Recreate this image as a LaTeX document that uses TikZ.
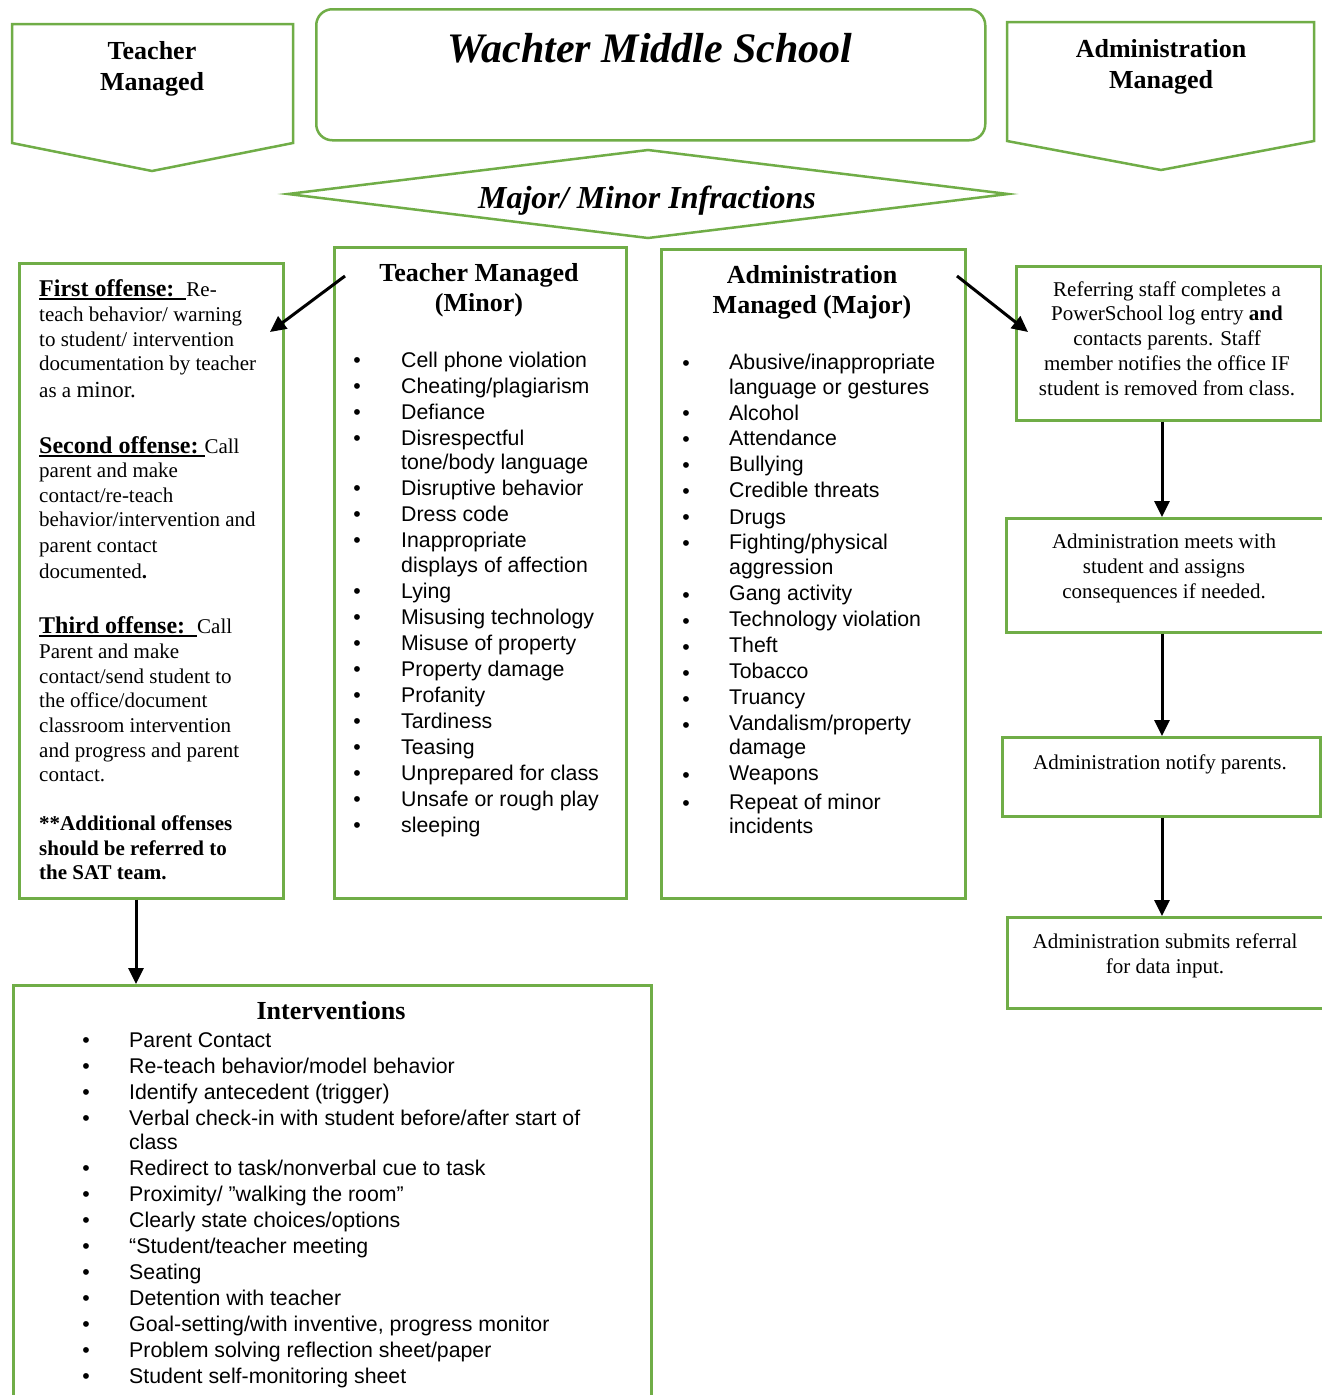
\documentclass[tikz,border=0pt]{standalone}
\usepackage{fontspec}
\setmainfont{Liberation Serif}
\setsansfont{Liberation Sans}
\usetikzlibrary{arrows.meta}
\definecolor{wgreen}{HTML}{70AD47}
\newcommand{\headrule}[1]{\setbox0\hbox{#1}\rlap{\rule[-4pt]{\wd0}{2.2pt}}\box0}
\tikzset{
  gbox/.style={draw=wgreen, line width=2.5pt, inner sep=0pt, anchor=north west},
  arr/.style={line width=3pt, -{Triangle[length=16pt,width=15pt]}},
  rm/.style={font=\fontsize{21}{25}\selectfont, inner sep=0pt, yshift=-6pt},
  ss/.style={font=\sffamily\fontsize{21.3}{25}\selectfont, inner sep=0pt, yshift=-6pt},
  hd/.style={font=\bfseries\fontsize{26}{31}\selectfont, inner sep=0pt, anchor=mid, yshift=-6pt},
  bul/.style={font=\sffamily\fontsize{21.3}{25}\selectfont, inner sep=0pt, anchor=mid, yshift=-6pt},
}
\begin{document}
\begin{tikzpicture}[x=1pt, y=-1pt]
\useasboundingbox[fill=white] (0,0) rectangle (1322,1395);

% top row
\draw[wgreen, line width=2.5pt] (12,24) -- (293,24) -- (293,143) -- (152,171) -- (12,143) -- cycle;
\draw[wgreen, line width=2.5pt] (1007,22) -- (1314,22) -- (1314,141) -- (1161,170) -- (1007,141) -- cycle;
\node[gbox, rounded corners=16pt, minimum width=669pt, minimum height=131pt] (titlebox) at (315,8) {};
\draw[wgreen, line width=2.5pt] (288,194) -- (648,150) -- (1008,194) -- (648,238) -- cycle;

\node[hd] (tmhead1) at (152,51) {Teacher};
\node[hd] (tmhead2) at (152,82) {Managed};
\node[hd] (amhead1) at (1161,49) {Administration};
\node[hd] (amhead2) at (1161,80) {Managed};
\node[inner sep=0pt, anchor=mid, font=\bfseries\itshape\fontsize{42}{50}\selectfont] (title) at (650,60) {Wachter Middle School};
\node[inner sep=0pt, anchor=mid, font=\bfseries\itshape\fontsize{32}{38}\selectfont] (infr) at (647,206) {Major/ Minor Infractions};

% boxes
\node[gbox, minimum width=264pt, minimum height=635pt] (offense) at (18,262) {};
\node[gbox, minimum width=292pt, minimum height=651pt] (minor) at (333,246) {};
\node[gbox, minimum width=304pt, minimum height=649pt] (major) at (660,248) {};
\node[gbox, minimum width=305pt, minimum height=154pt] (refer) at (1015,265) {};
\node[gbox, minimum width=320pt, minimum height=114pt] (meet) at (1005,517) {};
\node[gbox, minimum width=318pt, minimum height=79pt] (notify) at (1001,736) {};
\node[gbox, minimum width=319pt, minimum height=91pt] (submit) at (1006,916) {};
\node[gbox, minimum width=638pt, minimum height=420pt] (interv) at (12,984) {};

% offenses
\foreach \y/\txt [count=\i] in {
  288/{{\bfseries\fontsize{24}{28}\selectfont\headrule{First offense:\ \ }}Re-},
  313/{teach behavior/ warning},
  338/{to student/ intervention},
  362/{documentation by teacher},
  389/{as a {\fontsize{23}{25}\selectfont minor.}},
  445/{{\bfseries\fontsize{24}{28}\selectfont\headrule{Second offense:\ }}Call},
  469/{parent and make},
  494/{contact/re-teach},
  518/{behavior/intervention and},
  544/{parent contact},
  570/{documented{\bfseries .}},
  625/{{\bfseries\fontsize{24}{28}\selectfont\headrule{Third offense:\ \ }}Call},
  650/{Parent and make},
  675/{contact/send student to},
  699/{the office/document},
  724/{classroom intervention},
  749/{and progress and parent},
  773/{contact.},
  822/{\bfseries **Additional offenses},
  847/{\bfseries should be referred to},
  871/{\bfseries the SAT team.}}
  \node[rm, anchor=mid west] (off\i) at (39,\y) {\txt};

% teacher managed list
\node[hd] (minhead1) at (479,273) {Teacher Managed};
\node[hd] (minhead2) at (479,303) {(Minor)};
\foreach \y/\txt [count=\i] in {
  359/{Cell phone violation}, 385/{Cheating/plagiarism}, 411/{Defiance},
  437/{Disrespectful}, 461/{tone/body language}, 487/{Disruptive behavior},
  513/{Dress code}, 539/{Inappropriate}, 564/{displays of affection},
  590/{Lying}, 616/{Misusing technology}, 642/{Misuse of property},
  668/{Property damage}, 694/{Profanity}, 720/{Tardiness}, 746/{Teasing},
  772/{Unprepared for class}, 798/{Unsafe or rough play}, 824/{sleeping}}
  \node[ss, anchor=mid west] (min\i) at (401,\y) {\txt};
\foreach \y [count=\i] in {359,385,411,437,487,513,539,590,616,642,668,694,720,746,772,798,824}
  \node[bul] (minb\i) at (357,\y) {\textbullet};

% administration managed list
\node[hd] (majhead1) at (812,275) {Administration};
\node[hd] (majhead2) at (812,305) {Managed (Major)};
\foreach \y/\txt [count=\i] in {
  361/{Abusive/inappropriate}, 386/{language or gestures}, 412/{Alcohol},
  437/{Attendance}, 463/{Bullying}, 489/{Credible threats}, 516/{Drugs},
  541/{Fighting/physical}, 566/{aggression}, 592/{Gang activity},
  618/{Technology violation}, 644/{Theft}, 670/{Tobacco}, 696/{Truancy},
  722/{Vandalism/property}, 746/{damage}, 772/{Weapons},
  801/{Repeat of minor}, 825/{incidents}}
  \node[ss, anchor=mid west] (maj\i) at (729,\y) {\txt};
\foreach \y [count=\i] in {362,412,438,464,490,516,542,594,620,646,672,698,724,774,802}
  \node[bul] (majb\i) at (686,\y) {\textbullet};

% administration steps
\foreach \y/\txt [count=\i] in {
  288/{Referring staff completes a}, 312/{PowerSchool log entry \textbf{and}},
  337/{contacts parents. Staff}, 362/{member notifies the office IF},
  387/{student is removed from class.}}
  \node[rm, anchor=mid] (ref\i) at (1167,\y) {\txt};
\foreach \y/\txt [count=\i] in {
  540/{Administration meets with}, 565/{student and assigns},
  590/{consequences if needed.}}
  \node[rm, anchor=mid] (meet\i) at (1164,\y) {\txt};
\node[rm, anchor=mid] (notify1) at (1160,761) {Administration notify parents.};
\node[rm, anchor=mid] (submit1) at (1165,940) {Administration submits referral};
\node[rm, anchor=mid] (submit2) at (1165,965) {for data input.};

% interventions
\node[hd] (intervhead) at (331,1011) {Interventions};
\foreach \y/\txt [count=\i] in {
  1039/{Parent Contact}, 1065/{Re-teach behavior/model behavior},
  1091/{Identify antecedent (trigger)},
  1117/{Verbal check-in with student before/after start of}, 1141/{class},
  1167/{Redirect to task/nonverbal cue to task},
  1193/{Proximity/ ”walking the room”}, 1219/{Clearly state choices/options},
  1245/{“Student/teacher meeting}, 1271/{Seating},
  1297/{Detention with teacher},
  1323/{Goal-setting/with inventive, progress monitor},
  1349/{Problem solving reflection sheet/paper},
  1375/{Student self-monitoring sheet}}
  \node[ss, anchor=mid west] (int\i) at (129,\y) {\txt};
\foreach \y [count=\i] in {1039,1065,1091,1117,1167,1193,1219,1245,1271,1297,1323,1349,1375}
  \node[bul] (intb\i) at (86,\y) {\textbullet};

% connectors
\coordinate (minorstart) at (345,276);
\coordinate (offenseend) at (270,332);
\coordinate (majorstart) at (957,276);
\coordinate (referend) at (1028,332);
\coordinate (ax) at (1162,0);
\coordinate (ox) at (136,0);
\draw[arr] (minorstart) -- (offenseend);
\draw[arr] (majorstart) -- (referend);
\draw[arr] (ax |- refer.south) -- (ax |- meet.north);
\draw[arr] (ax |- meet.south) -- (ax |- notify.north);
\draw[arr] (ax |- notify.south) -- (ax |- submit.north);
\draw[arr] (ox |- offense.south) -- (ox |- interv.north);

\end{tikzpicture}
\end{document}
